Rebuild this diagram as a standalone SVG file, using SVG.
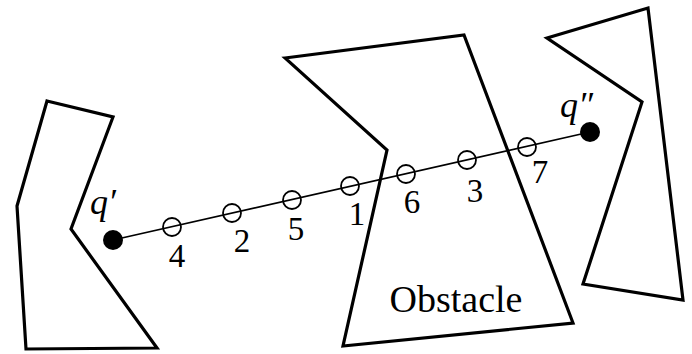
<svg xmlns="http://www.w3.org/2000/svg" width="692" height="354" viewBox="0 0 692 354">
<style>
.obs{fill:none;stroke:#000;stroke-width:3.2;stroke-linejoin:miter}
.conn{stroke:#000;stroke-width:1.6;fill:none}
.smp{fill:none;stroke:#000;stroke-width:1.8}
.pt{fill:#000}
.num{font-family:"Liberation Serif","Times New Roman",serif;font-size:33px;text-anchor:middle;fill:#000}
.q{font-family:"Liberation Serif","Times New Roman",serif;font-style:italic;font-size:36px;fill:#000}
.lbl{font-family:"Liberation Serif","Times New Roman",serif;font-size:38px;text-anchor:middle;fill:#000}
</style>
<rect width="692" height="354" fill="#fff"/>
<g id="obstacle-left"><polygon class="obs" points="47,101 113,117 71,229 157,348 26,349 17,206"/></g>
<g id="obstacle-middle"><polygon class="obs" points="285,58 464,35 573,323 343,346 387,150"/><text class="lbl" x="456" y="312">Obstacle</text></g>
<g id="obstacle-right"><polygon class="obs" points="547,38 648,8 683,300 583,284 642,102"/></g>
<g id="connectors"><line class="conn" x1="113" y1="240" x2="590" y2="132"/></g>
<g id="q-start"><circle class="pt" cx="113" cy="240" r="10"/><text class="q" x="90" y="214">q′</text></g>
<g id="q-end"><circle class="pt" cx="590" cy="132" r="10"/><text class="q" x="560" y="117">q″</text></g>
<g id="s4"><circle class="smp" cx="172" cy="227" r="9"/><text class="num" x="177" y="267">4</text></g>
<g id="s2"><circle class="smp" cx="232" cy="213" r="9"/><text class="num" x="242" y="252">2</text></g>
<g id="s5"><circle class="smp" cx="292" cy="200" r="9"/><text class="num" x="296" y="240">5</text></g>
<g id="s1"><circle class="smp" cx="350" cy="186" r="9"/><text class="num" x="357" y="225">1</text></g>
<g id="s6"><circle class="smp" cx="406" cy="174" r="9"/><text class="num" x="412" y="213">6</text></g>
<g id="s3"><circle class="smp" cx="467" cy="160" r="9"/><text class="num" x="475" y="202">3</text></g>
<g id="s7"><circle class="smp" cx="527" cy="147" r="9"/><text class="num" x="540" y="183">7</text></g>
</svg>
